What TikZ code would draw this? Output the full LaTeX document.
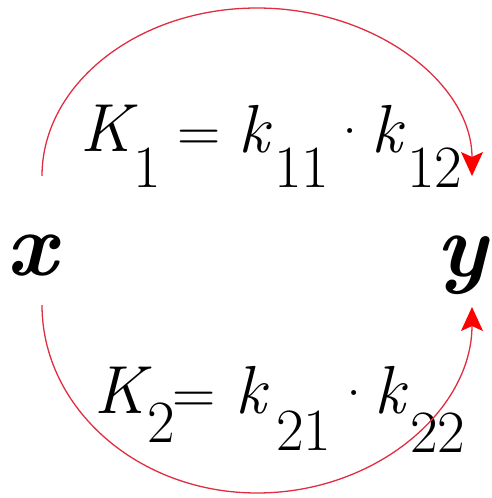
\documentclass[tikz,border=0pt]{standalone}
\usepackage{fontspec}
\usetikzlibrary{arrows.meta}
\definecolor{arcred}{RGB}{225,45,65}
\definecolor{tipred}{RGB}{255,0,0}
\begin{document}
\begin{tikzpicture}[x=1pt,y=-1pt,
  glyph/.style={inner sep=0pt,outer sep=0pt,anchor=base west},
  lett/.style={glyph,font=\rmfamily\fontsize{68}{78}\selectfont\itshape},
  dig/.style={glyph,font=\rmfamily\fontsize{60}{68}\selectfont},
  op/.style={glyph,font=\rmfamily\fontsize{60}{68}\selectfont},
  var/.style={glyph,font=\rmfamily\fontsize{90}{100}\selectfont\bfseries\itshape},
  flow/.style={draw=arcred,line width=1.3pt,-{Stealth[length=24pt,width=22pt,inset=5pt,color=tipred]}}]
\useasboundingbox (0,0) rectangle (491,498);
% variables
\node[var] (x) at (6,275) {x};
\node[var] (y) at (436,276) {y};
% top formula
\node[lett] (K1) at (80,151) {K};
\node[dig] (s1) at (133,187) {1};
\node[op] (eq1) at (177,151) {=};
\node[lett] (k11) at (238,152) {k};
\node[dig] (s11) at (274,187) {11};
\node[op,anchor=base] (d1) at (350,151) {·};
\node[lett] (k12) at (371,152) {k};
\node[dig] (s12) at (407,187) {12};
% bottom formula
\node[lett] (K2) at (94,413) {K};
\node[dig] (s2) at (147,442) {\makebox[24pt][l]{2}};
\node[op] (eq2) at (172,413) {=};
\node[lett] (k21) at (235,413) {k};
\node[dig] (s21) at (276,450) {21};
\node[op,anchor=base] (d2) at (354,413) {·};
\node[lett] (k22) at (374,413) {k};
\node[dig] (s22) at (410,452) {22};
% arc ends
\coordinate (xt) at (42,176);
\coordinate (xb) at (42,305);
\coordinate (yt) at (472,176);
\coordinate (yb) at (472,307);
\draw[flow] (xt) .. controls (42,84) and (138,8) .. (257,8)
  .. controls (376,8) and (472,84) .. (yt);
\draw[flow] (xb) .. controls (42,408) and (138,493) .. (257,493)
  .. controls (376,493) and (472,410) .. (yb);
\end{tikzpicture}
\end{document}
